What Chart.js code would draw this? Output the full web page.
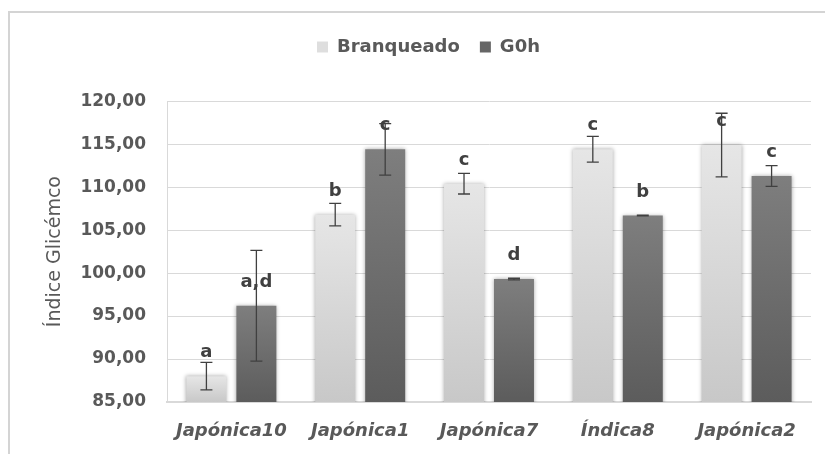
<!DOCTYPE html>
<html>
<head>
<meta charset="utf-8">
<script src="https://cdn.jsdelivr.net/npm/chart.js@4.4.0/dist/chart.umd.min.js"></script>
<style>
  html, body { margin: 0; padding: 0; background: #fff; }
  #moldura {
    position: absolute; left: 8px; top: 11px; width: 900px; height: 500px;
    border-left: 2px solid #d4d4d4; border-top: 2px solid #d4d4d4;
  }
  #igChart { position: absolute; left: 0; top: 0; }
</style>
</head>
<body>
<div id="moldura"></div>
<canvas id="igChart" width="825" height="454"></canvas>
<script>
// cultivares e valores médios do índice glicémico
const categorias = ["Japónica10", "Japónica1", "Japónica7", "Índica8", "Japónica2"];
const branqueado = [88.0, 106.8, 110.4, 114.4, 114.9];
const g0h = [96.2, 114.4, 99.3, 106.7, 111.3];

// desvios (barras de erro)
const branqueadoErro = [1.6, 1.3, 1.2, 1.5, 3.7];
const g0hErro = [6.45, 3.0, 0.1, 0.05, 1.2];

// letras de significância
const branqueadoLetras = ["a", "b", "c", "c", "c"];
const g0hLetras = ["a,d", "c", "d", "b", "c"];

// eixo y
const yMin = 85;
const yMax = 120;
const yPasso = 5;

const erros = [branqueadoErro, g0hErro];
const letras = [branqueadoLetras, g0hLetras];

const FONTE = '"DejaVu Sans", sans-serif';
const corTexto = "#595959";

// gradiente vertical de cada barra (do topo até à base)
function gradiente(cores) {
  return function (c) {
    const chart = c.chart;
    const area = chart.chartArea;
    if (!area || c.type !== "data") return cores[1];
    const topo = chart.scales.y.getPixelForValue(c.raw);
    const g = chart.ctx.createLinearGradient(0, topo, 0, area.bottom);
    g.addColorStop(0, cores[0]);
    g.addColorStop(1, cores[1]);
    return g;
  };
}

// sombra suave nas barras
const sombraBarras = {
  id: "sombraBarras",
  beforeDatasetsDraw(chart) {
    const ctx = chart.ctx;
    ctx.save();
    ctx.shadowColor = "rgba(0,0,0,0.35)";
    ctx.shadowBlur = 4;
  },
  afterDatasetsDraw(chart) {
    chart.ctx.restore();
  },
};

// barras de erro + letras por cima de cada barra
const barrasErro = {
  id: "barrasErro",
  afterDatasetsDraw(chart) {
    const ctx = chart.ctx;
    const y = chart.scales.y;
    chart.data.datasets.forEach((ds, i) => {
      const meta = chart.getDatasetMeta(i);
      meta.data.forEach((bar, j) => {
        const v = ds.data[j];
        const e = erros[i][j];
        const yTopo = y.getPixelForValue(v + e);
        const yBase = y.getPixelForValue(v - e);
        ctx.save();
        ctx.strokeStyle = "#404040";
        ctx.lineWidth = 1.3;
        ctx.beginPath();
        ctx.moveTo(bar.x, yTopo);
        ctx.lineTo(bar.x, yBase);
        ctx.moveTo(bar.x - 6, yTopo);
        ctx.lineTo(bar.x + 6, yTopo);
        ctx.moveTo(bar.x - 6, yBase);
        ctx.lineTo(bar.x + 6, yBase);
        ctx.stroke();

        ctx.fillStyle = "#404040";
        ctx.font = "bold 18px " + FONTE;
        ctx.textAlign = "center";
        ctx.textBaseline = "alphabetic";
        ctx.fillText(letras[i][j], bar.x, y.getPixelForValue(v) - 19);
        ctx.restore();
      });
    });
  },
};

const coresLegenda = ["#dedede", "#666666"];

new Chart(document.getElementById("igChart"), {
  type: "bar",
  data: {
    labels: categorias,
    datasets: [
      {
        label: "Branqueado",
        data: branqueado,
        backgroundColor: gradiente(["#e6e6e6", "#c8c8c8"]),
        borderWidth: 0,
        categoryPercentage: 0.776,
        barPercentage: 0.8,
      },
      {
        label: "G0h",
        data: g0h,
        backgroundColor: gradiente(["#7e7e7e", "#5c5c5c"]),
        borderWidth: 0,
        categoryPercentage: 0.776,
        barPercentage: 0.8,
      },
    ],
  },
  options: {
    responsive: false,
    animation: false,
    layout: { padding: { top: 18, right: 14, bottom: 0, left: 46 } },
    plugins: {
      legend: {
        position: "top",
        labels: {
          boxWidth: 11,
          boxHeight: 11,
          padding: 20,
          color: corTexto,
          font: { family: FONTE, size: 18, weight: "bold" },
          generateLabels(chart) {
            const itens = Chart.defaults.plugins.legend.labels.generateLabels(chart);
            itens.forEach((it, k) => {
              it.fillStyle = coresLegenda[k];
              it.strokeStyle = coresLegenda[k];
              it.lineWidth = 0;
            });
            return itens;
          },
        },
      },
      // espaço entre a legenda e a área do gráfico
      title: {
        display: true,
        text: "",
        weight: 500,
        font: { size: 1 },
        padding: { top: 0, bottom: 34 },
      },
      tooltip: { enabled: false },
    },
    scales: {
      x: {
        grid: { display: false, drawTicks: false },
        border: { display: true, color: "#d9d9d9", width: 2 },
        ticks: {
          color: corTexto,
          padding: 19,
          font: { family: FONTE, size: 18, weight: "bold", style: "italic" },
        },
        afterFit(scale) {
          scale.height = 52;
        },
      },
      y: {
        min: yMin,
        max: yMax,
        grid: { color: "#d9d9d9", lineWidth: 1, drawTicks: false },
        border: { display: true, color: "#d9d9d9", width: 1 },
        ticks: {
          stepSize: yPasso,
          color: corTexto,
          padding: 21,
          font: { family: FONTE, size: 17, weight: "bold" },
          callback: (v) => v.toFixed(2).replace(".", ","),
        },
        title: {
          display: true,
          text: "Índice Glicémco",
          color: corTexto,
          font: { family: FONTE, size: 19 },
          padding: { top: -2, bottom: 0 },
        },
        afterFit(scale) {
          scale.width = 121;
        },
      },
    },
  },
  plugins: [sombraBarras, barrasErro],
});
</script>
</body>
</html>
